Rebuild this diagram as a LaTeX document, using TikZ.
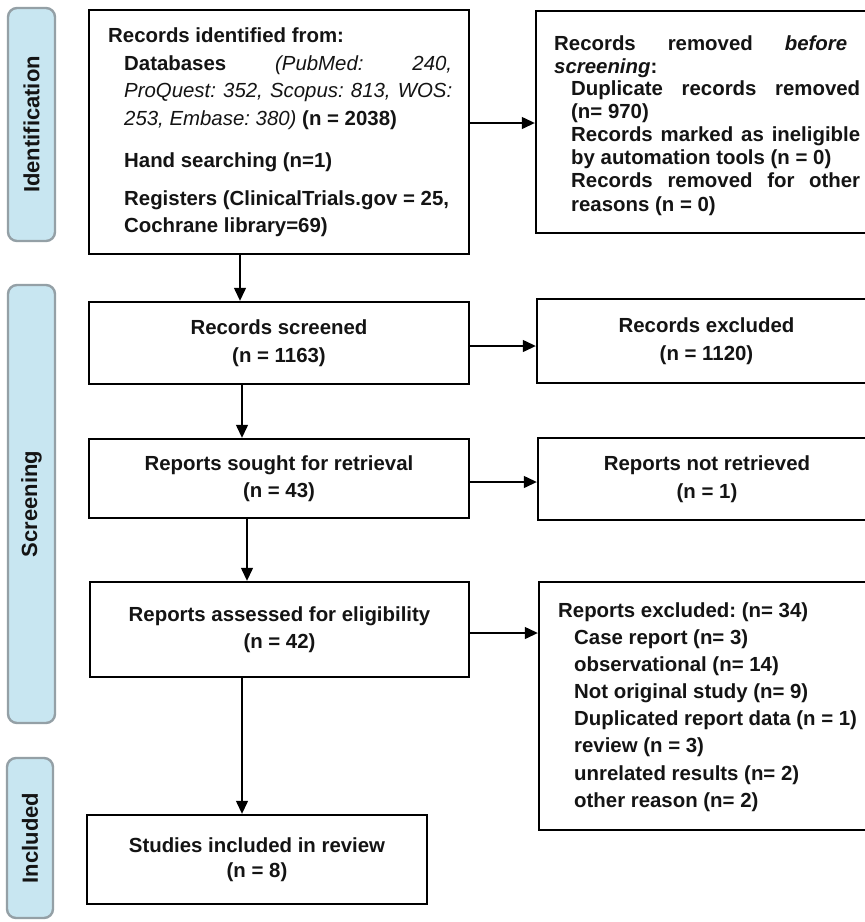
\documentclass[tikz,border=0pt]{standalone}
\usepackage{fontspec}
\setmainfont{Liberation Sans}
\usetikzlibrary{arrows.meta}
\tolerance=10000 \hbadness=10000 \hfuzz=6pt
\frenchspacing
\definecolor{tabfill}{RGB}{200,230,241}
\definecolor{tabline}{RGB}{148,160,166}
\definecolor{ink}{RGB}{20,20,20}
\begin{document}
\frenchspacing
\begin{tikzpicture}[x=1pt,y=-1pt,
  box/.style={draw=black, line width=2.4pt, inner sep=0pt, text=ink, align=center,
    font=\bfseries\fontsize{20.4}{27.5}\selectfont},
  tab/.style={draw=tabline, fill=tabfill, line width=2.4pt, rounded corners=9pt,
    rotate=90, inner sep=0pt, text=ink, font=\bfseries\fontsize{22}{26}\selectfont},
  txt/.style={anchor=base west, inner sep=0pt, text=ink,
    font=\bfseries\fontsize{20.4}{27.5}\selectfont},
  arr/.style={line width=1.3pt, -{Triangle[length=13pt,width=12pt]}}
]
\useasboundingbox (0,0) rectangle (865,922);
\fill[white] (0,0) rectangle (865,922);
\clip (0,0) rectangle (865,922);

% phase tabs
\node[tab, minimum width=233pt, minimum height=47pt] (tabid) at (31.5,124.5) {Identification};
\node[tab, minimum width=438pt, minimum height=47pt] (tabsc) at (31.5,504) {Screening};
\node[tab, minimum width=160pt, minimum height=46pt] (tabin) at (30,838) {Included};

% boxes
\node[box, minimum width=380pt, minimum height=244pt] (ident) at (279,132) {};
\node[box, minimum width=340pt, minimum height=222pt] (removed) at (706,122) {};
\node[box, minimum width=380pt, minimum height=82pt] (screened) at (279,343) {Records screened\\(n = 1163)};
\node[box, minimum width=339pt, minimum height=84pt] (excluded) at (706.5,341) {Records excluded\\(n = 1120)};
\node[box, minimum width=380pt, minimum height=79pt] (sought) at (279,478.5) {Reports sought for retrieval\\(n = 43)};
\node[box, minimum width=338pt, minimum height=82pt] (notret) at (707,479) {Reports not retrieved\\(n = 1)};
\node[box, minimum width=379pt, minimum height=95pt] (assessed) at (279.5,629.5) {Reports assessed for eligibility\\(n = 42)};
\node[box, minimum width=337pt, minimum height=248pt] (repexcl) at (707.5,706) {};
\node[box, minimum width=340pt, minimum height=89pt, font=\bfseries\fontsize{20.4}{25}\selectfont] (included) at (257,859.5) {Studies included in review\\(n = 8)};

% texts of the identification box
\node[txt] (t1) at (108,42) {Records identified from:};
\node[txt] (t2) at (124,70) {\parbox[t]{328pt}{\fontsize{20.4}{27.6}\selectfont Databases {\mdseries\itshape (PubMed: 240,}\linebreak{\mdseries\itshape ProQuest: 352, Scopus: 813, WOS:}\linebreak{\mdseries\itshape 253, Embase: 380)} (n = 2038)}};
\node[txt] (t3) at (124,167) {Hand searching (n=1)};
\node[txt] (t4) at (124,205) {\parbox[t]{345pt}{\raggedright\fontsize{20.4}{27}\selectfont Registers (ClinicalTrials.gov = 25,\\Cochrane library=69)}};

% texts of the removed box
\node[txt] (r1) at (554,50) {\parbox[t]{293pt}{\fontsize{20.4}{23.2}\selectfont Records removed \textit{before}\linebreak\textit{screening}:}};
\node[txt] (r2) at (571,95) {\parbox[t]{289pt}{\fontsize{20.4}{23.2}\selectfont Duplicate records removed\linebreak (n= 970)\par Records marked as ineligible\linebreak by automation tools (n = 0)\par Records removed for other\linebreak reasons (n = 0)}};

% texts of the reports excluded box
\node[txt] (e0) at (558,617) {Reports excluded: (n= 34)};
\node[txt] (e1) at (574,644) {\parbox[t]{290pt}{\raggedright\fontsize{20.4}{27.2}\selectfont Case report (n= 3)\\observational (n= 14)\\Not original study (n= 9)\\Duplicated report data (n = 1)\\review (n = 3)\\unrelated results (n= 2)\\other reason (n= 2)}};

% connector guides
\coordinate (va) at (240,0);
\coordinate (vb) at (242,0);
\coordinate (vc) at (247,0);
\coordinate (vd) at (242,0);
\coordinate (ha) at (0,123);
\coordinate (hb) at (0,346);
\coordinate (hc) at (0,482);
\coordinate (hd) at (0,633);

\draw[arr] (ident.south -| va) -- (screened.north -| va);
\draw[arr] (screened.south -| vb) -- (sought.north -| vb);
\draw[arr] (sought.south -| vc) -- (assessed.north -| vc);
\draw[arr] (assessed.south -| vd) -- (included.north -| vd);

\draw[arr] (ident.east |- ha) -- (removed.west |- ha);
\draw[arr] (screened.east |- hb) -- (excluded.west |- hb);
\draw[arr] (sought.east |- hc) -- (notret.west |- hc);
\draw[arr] (assessed.east |- hd) -- (repexcl.west |- hd);
\end{tikzpicture}
\end{document}
